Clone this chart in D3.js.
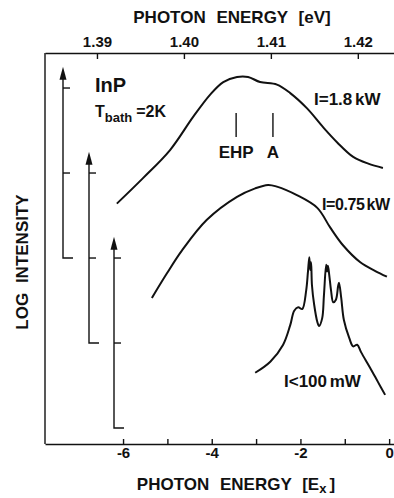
<!DOCTYPE html>
<html>
<head>
<meta charset="utf-8">
<script src="https://cdn.jsdelivr.net/npm/d3@7"></script>
<style>
  body { margin: 0; background: #fff; }
  svg text { font-family: "Liberation Sans", Arial, sans-serif; font-weight: bold; fill: #111; }
</style>
</head>
<body>
<svg id="chart" width="394" height="498"></svg>
<script>
// photon energy in units of the exciton Rydberg, below the gap
const exTicks = [-6, -5, -4, -3, -2, -1, 0];
const evTicks = [1.39, 1.40, 1.41, 1.42];
const bandGap = 1.4236;   // eV, Ex = 0
const rydberg = 0.0051;   // eV per Ex unit

// log intensity (decades above the curve's own arrow base) vs Ex
const spectrumHigh = [
  [-6.14, 0.64], [-5.55, 0.94], [-4.94, 1.27], [-4.42, 1.66], [-4.04, 1.92],
  [-3.74, 2.07], [-3.43, 2.13], [-3.18, 2.13], [-2.91, 2.07], [-2.53, 2.04],
  [-2.23, 1.94], [-1.85, 1.76], [-1.49, 1.54], [-1.17, 1.36], [-0.81, 1.19],
  [-0.47, 1.11], [-0.14, 1.06]
];
const spectrumMid = [
  [-5.35, 0.53], [-5.01, 0.82], [-4.67, 1.09], [-4.11, 1.45], [-3.43, 1.72],
  [-3.02, 1.82], [-2.73, 1.86], [-2.53, 1.84], [-2.08, 1.74], [-1.62, 1.59],
  [-1.33, 1.36], [-1.04, 1.15], [-0.65, 0.95], [-0.32, 0.85], [-0.05, 0.78]
];
const spectrumLow = [
  [-3.02, 0.65], [-2.68, 0.78], [-2.39, 0.98], [-2.23, 1.21], [-2.14, 1.38],
  [-2.05, 1.42], [-1.96, 1.40], [-1.87, 1.62], [-1.83, 1.84], [-1.80, 2.01],
  [-1.78, 1.86], [-1.76, 1.95], [-1.74, 1.68], [-1.69, 1.45], [-1.62, 1.25],
  [-1.58, 1.20], [-1.51, 1.29], [-1.47, 1.56], [-1.42, 1.92], [-1.40, 1.84],
  [-1.38, 1.91], [-1.35, 1.80], [-1.31, 1.62], [-1.26, 1.48], [-1.20, 1.51],
  [-1.15, 1.67], [-1.13, 1.71], [-1.08, 1.53], [-1.02, 1.27], [-0.90, 1.06],
  [-0.81, 0.96], [-0.72, 0.98], [-0.63, 0.89], [-0.43, 0.71], [-0.25, 0.54],
  [-0.09, 0.39]
];
const spectra = [spectrumHigh, spectrumMid, spectrumLow];
const powerLabels = ["I=1.8 kW", "I=0.75 kW", "I<100 mW"];
const arrowBase = [2, 1, 0];       // decade offset of each intensity arrow
const markers = [{ name: "EHP", ex: -3.45 }, { name: "A", ex: -2.62 }];

const margin = { top: 53, left: 45, bottom: 54 };
const width = 394 - margin.left;
const height = 498 - margin.top - margin.bottom;

const svg = d3.select("#chart");
const g = svg.append("g").attr("transform", `translate(${margin.left},${margin.top})`);

const x = d3.scaleLinear().domain([-7.76, 0.11]).range([0, width]);
const xEv = d3.scaleLinear()
  .domain(x.domain().map(e => bandGap + e * rydberg))
  .range([0, width]);
const y = d3.scaleLinear().domain([-0.188, 4.412]).range([height, 0]);

// axes: ticks point inward
const bottomAxis = d3.axisBottom(x)
  .tickValues(exTicks)
  .tickFormat(d => d % 2 === 0 ? String(d).replace("\u2212", "-") : "")
  .tickSizeInner(-5).tickSizeOuter(0).tickPadding(3);
const topAxis = d3.axisTop(xEv)
  .tickValues(evTicks)
  .tickFormat(d3.format(".2f"))
  .tickSizeInner(-6).tickSizeOuter(0).tickPadding(6);

g.append("g").attr("transform", `translate(0,${height})`).call(bottomAxis);
g.append("g").call(topAxis);
g.selectAll(".domain, .tick line").attr("stroke", "#111").attr("stroke-width", 1.4);
g.selectAll(".tick text").style("font-size", "15px").attr("fill", "#111");

g.append("line")
  .attr("x1", 0).attr("x2", 0).attr("y1", 0).attr("y2", height)
  .attr("stroke", "#111").attr("stroke-width", 1.4);

// intensity arrows, one decade apart
const arrowX = [18, 44, 69];
arrowBase.forEach((b, i) => {
  const ax = arrowX[i];
  const tip = y(b + 2.25);
  g.append("path")
    .attr("d", `M${ax + 10},${y(b)}H${ax}V${tip + 10}`)
    .attr("fill", "none").attr("stroke", "#111").attr("stroke-width", 1.4);
  g.append("path")
    .attr("d", `M${ax},${tip}L${ax - 3.5},${tip + 13}L${ax + 3.5},${tip + 13}Z`)
    .attr("fill", "#111");
  [1, 2].forEach(k => {
    g.append("line")
      .attr("x1", ax).attr("x2", ax + 7)
      .attr("y1", y(b + k)).attr("y2", y(b + k))
      .attr("stroke", "#111").attr("stroke-width", 1.4);
  });
});

// spectra
const line = d3.line()
  .x(d => x(d[0]))
  .y(d => y(d[1]))
  .curve(d3.curveCatmullRom.alpha(0.5));

spectra.forEach((s, i) => {
  g.append("path")
    .datum(s.map(d => [d[0], d[1] + arrowBase[i]]))
    .attr("d", line)
    .attr("fill", "none")
    .attr("stroke", "#111")
    .attr("stroke-width", 2);
});

// EHP and A markers
markers.forEach(m => {
  g.append("line")
    .attr("x1", x(m.ex)).attr("x2", x(m.ex))
    .attr("y1", 60).attr("y2", 84)
    .attr("stroke", "#111").attr("stroke-width", 1.4);
  g.append("text")
    .attr("x", x(m.ex)).attr("y", 105)
    .attr("text-anchor", "middle")
    .style("font-size", "17px")
    .text(m.name);
});

// power labels
const labelPos = [[269, 52], [277, 157], [239, 334]];
powerLabels.forEach((t, i) => {
  g.append("text")
    .attr("x", labelPos[i][0]).attr("y", labelPos[i][1])
    .style("font-size", i === 1 ? "16px" : "17px")
    .style("letter-spacing", i === 1 ? "-0.4px" : "0px")
    .style("word-spacing", "-2px")
    .text(t);
});

g.append("text").attr("x", 50).attr("y", 39)
  .style("font-size", "20px").text("InP");

const tb = g.append("text").attr("x", 50).attr("y", 64).style("font-size", "16px");
tb.append("tspan").text("T");
tb.append("tspan").attr("dy", 5).style("font-size", "13px").text("bath");
tb.append("tspan").attr("dy", -5).attr("dx", 4).text("=2K");

// axis titles
svg.append("text")
  .attr("x", 232).attr("y", 23)
  .attr("text-anchor", "middle")
  .style("font-size", "17px").style("word-spacing", "6px")
  .text("PHOTON ENERGY [eV]");

const bt = svg.append("text")
  .attr("x", 236).attr("y", 490)
  .attr("text-anchor", "middle")
  .style("font-size", "17px").style("word-spacing", "6px");
bt.append("tspan").text("PHOTON ENERGY [E");
bt.append("tspan").attr("dy", 3).style("font-size", "13px").text("x");
bt.append("tspan").attr("dy", -3).attr("dx", 3).text("]");

svg.append("text")
  .attr("transform", "translate(28,262) rotate(-90)")
  .attr("text-anchor", "middle")
  .style("font-size", "17px").style("word-spacing", "5px")
  .text("LOG INTENSITY");
</script>
</body>
</html>
